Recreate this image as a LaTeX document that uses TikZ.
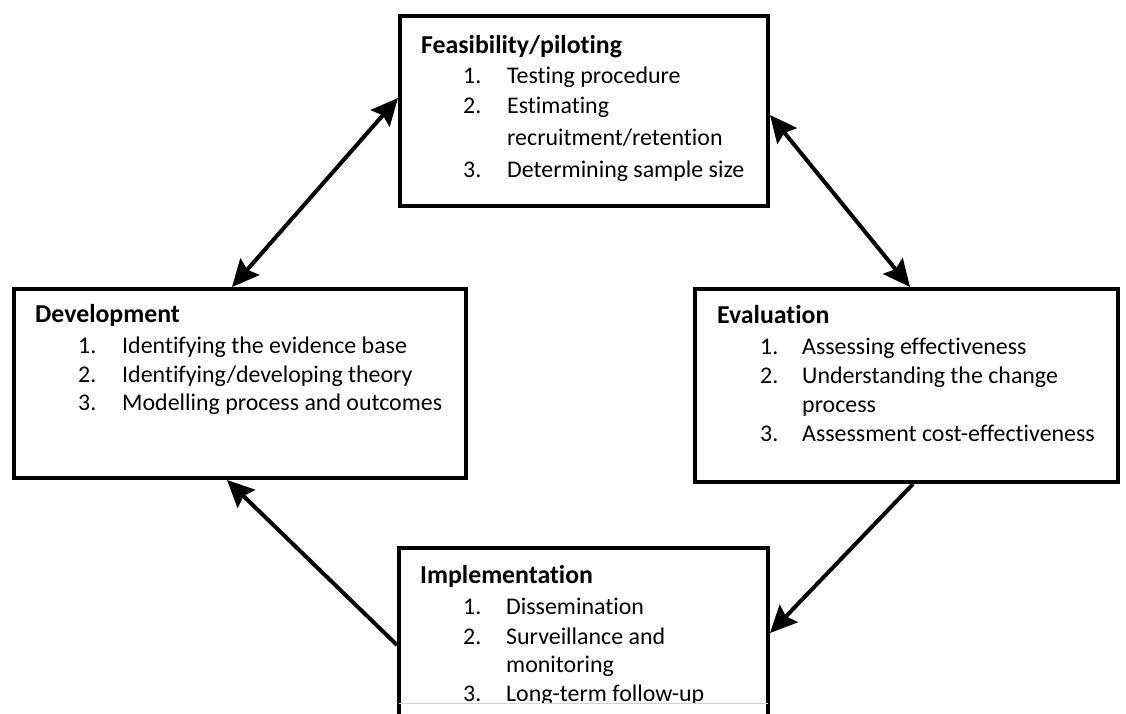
\documentclass[tikz,border=0pt]{standalone}
\usepackage{fontspec}
\setmainfont{Carlito}[Ligatures=NoCommon]
\usetikzlibrary{arrows.meta}

\tikzset{
  stage/.style={draw, rectangle, line width=4pt, inner sep=0pt},
  ttl/.style={anchor=base west, inner sep=0pt, font=\fontsize{25.8}{30}\selectfont\bfseries},
  itm/.style={anchor=base west, inner sep=0pt, font=\fontsize{23.9}{28}\selectfont},
  link/.style={line width=4pt, -{Stealth[length=27pt,width=25pt,inset=4pt]}},
  dlink/.style={line width=4pt, {Stealth[length=27pt,width=25pt,inset=4pt]}-{Stealth[length=27pt,width=25pt,inset=4pt]}},
}

\begin{document}
\begin{tikzpicture}[x=1pt,y=-1pt]
\useasboundingbox (0,0) rectangle (1126,713);
\clip (0,0) rectangle (1126,713);
\fill[white] (0,0) rectangle (1126,713);

% the four stages
\node[stage, minimum width=368pt, minimum height=190pt] (feas) at (584,111) {};
\node[stage, minimum width=452pt, minimum height=189pt] (dev)  at (240,383.5) {};
\node[stage, minimum width=423pt, minimum height=193pt] (eval) at (906.5,385.5) {};
\node[stage, minimum width=369pt, minimum height=192pt] (impl) at (583.5,644) {};

% Feasibility/piloting
\node[ttl] (feasT) at (421,53) {Feasibility/piloting};
\node[itm] (feasN1) at (463,83) {1.};
\node[itm] (feasI1) at (507,83) {Testing procedure};
\node[itm] (feasN2) at (463,113) {2.};
\node[itm] (feasI2) at (507,113) {Estimating};
\node[itm] (feasI2b) at (507,145) {recruitment/retention};
\node[itm] (feasN3) at (463,177) {3.};
\node[itm] (feasI3) at (507,177) {Determining sample size};

% Development
\node[ttl] (devT) at (35,322) {Development};
\node[itm] (devN1) at (78,353) {1.};
\node[itm] (devI1) at (122,353) {Identifying the evidence base};
\node[itm] (devN2) at (78,382) {2.};
\node[itm] (devI2) at (122,382) {Identifying/developing theory};
\node[itm] (devN3) at (78,410) {3.};
\node[itm] (devI3) at (122,410) {Modelling process and outcomes};

% Evaluation
\node[ttl] (evalT) at (717,323) {Evaluation};
\node[itm] (evalN1) at (760,354) {1.};
\node[itm] (evalI1) at (802,354) {Assessing effectiveness};
\node[itm] (evalN2) at (760,383) {2.};
\node[itm] (evalI2) at (802,383) {Understanding the change};
\node[itm] (evalI2b) at (802,412) {process};
\node[itm] (evalN3) at (760,441) {3.};
\node[itm] (evalI3) at (802,441) {Assessment cost-effectiveness};

% Implementation (last line cut by the text frame)
\node[ttl] (implT) at (420,583) {Implementation};
\node[itm] (implN1) at (463,614) {1.};
\node[itm] (implI1) at (506,614) {Dissemination};
\node[itm] (implN2) at (463,644) {2.};
\node[itm] (implI2) at (506,644) {Surveillance and};
\node[itm] (implI2b) at (506,672) {monitoring};
\begin{scope}
  \clip (401,660) rectangle (766,703);
  \node[itm] (implN3) at (463,701) {3.};
  \node[itm] (implI3) at (506,701) {Long-term follow-up};
\end{scope}
\draw[gray!35, line width=0.8pt] ([xshift=2pt,yshift=-157pt]impl.north west) -- ([xshift=-2pt,yshift=-157pt]impl.north east);

% connectors
\coordinate (devTop)   at ([xshift=220pt]dev.north west);
\coordinate (feasLeft) at ([yshift=13pt]feas.west);
\coordinate (feasRight) at ([yshift=-4pt]feas.east);
\coordinate (evalTop)  at ([xshift=217pt]eval.north west);
\coordinate (evalBot)  at ([xshift=220pt]eval.south west);
\coordinate (implRight) at ([yshift=-87pt]impl.north east);
\coordinate (implLeft) at ([yshift=-99pt]impl.north west);
\coordinate (devBot)   at ([xshift=215pt]dev.south west);

\draw[dlink] (devTop) -- (feasLeft);
\draw[dlink] (feasRight) -- (evalTop);
\draw[link] (evalBot) -- (implRight);
\draw[link] (implLeft) -- (devBot);
\end{tikzpicture}
\end{document}
